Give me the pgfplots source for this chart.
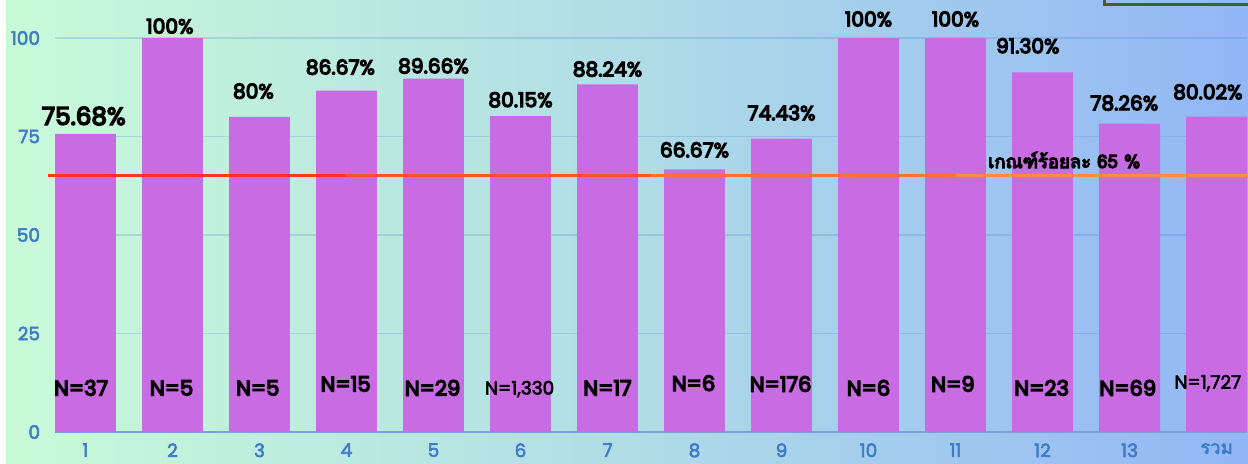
\documentclass[border=0pt]{standalone}
\usepackage{pgfplots}
\pgfplotsset{compat=1.18}
\usepackage{fontspec}
\setmainfont{Poppins}
\newfontfamily\psemi{Poppins}[FakeBold=6]
\newfontfamily\pmed{Poppins}[FakeBold=3]
\newfontfamily\thaifont[Script=Thai,FakeBold=6]{Loma}
\newfontfamily\thaitick[Script=Thai,FakeBold=3]{Loma}

\definecolor{barc}{HTML}{C96BE3}
\definecolor{tickc}{HTML}{3F7BC6}
\definecolor{bgl}{HTML}{C9FAD8}
\definecolor{bgm}{HTML}{B0DDE6}
\definecolor{bgr}{HTML}{92B6F6}
\definecolor{boxc}{HTML}{4B5E1C}
\definecolor{ln1}{RGB}{249,52,55}
\definecolor{ln2}{RGB}{252,80,62}
\definecolor{ln3}{RGB}{254,110,70}
\definecolor{ln4}{RGB}{255,138,80}

% ratio per category (%)
\pgfplotstableread{
x y
1 75.68
2 100
3 80
4 86.67
5 89.66
6 80.15
7 88.24
8 66.67
9 74.43
10 100
11 100
12 91.30
13 78.26
14 80.02
}\scores

% value label positions
\pgfplotstableread{
lx ly lab
1.97 103.0 100
2.93 86.5 80
3.93 92.6 86.67
5.0 92.9 89.66
6.0 84.3 80.15
7.0 92.1 88.24
8.0 71.6 66.67
9.0 81.0 74.43
10.0 104.8 100
11.0 104.8 100
11.83 98.0 91.30
12.94 83.5 78.26
13.9 86.3 80.02
}\vlabels

% sample sizes
\pgfplotstableread{
nx ny nlab
0.95 11.2 N=37
1.99 11.2 N=5
2.98 11.2 N=5
3.99 12.2 N=15
4.99 11.2 N=29
7.0 11.2 N=17
7.99 12.4 N=6
8.99 12.2 N=176
10.0 11.2 N=6
10.97 12.2 N=9
11.99 11.2 N=23
12.98 11.2 N=69
}\nlabels

\begin{document}
\begin{tikzpicture}
\useasboundingbox (0,0) rectangle (24.96cm,9.26cm);
\fill[white] (0,0) rectangle (24.96cm,9.26cm);
\shade[left color=bgl, right color=bgm] (0.12cm,0) rectangle (12.5cm,9.26cm);
\shade[left color=bgm, right color=bgr] (12.5cm,0) rectangle (24.96cm,9.26cm);
\begin{scope}
\clip (0,0) rectangle (24.96cm,9.26cm);
\draw[boxc, line width=2.2pt] (22.09cm,9.17cm) rectangle (26cm,10cm);
\end{scope}

\begin{axis}[
  at={(1.10cm,0.62cm)}, anchor=south west,
  scale only axis, width=23.84cm, height=7.88cm,
  xmin=0.65, xmax=14.35, ymin=0, ymax=100,
  clip=false,
  axis x line*=bottom, axis y line*=left,
  x axis line style={-, draw=tickc!70, line width=0.6pt},
  y axis line style={draw=none},
  major tick length=0pt,
  ytick={0,25,50,75,100},
  xtick={1,...,14},
  xticklabels={1,2,3,4,5,6,7,8,9,10,11,12,13,{\thaitick รวม}},
  ymajorgrids,
  grid style={draw=tickc, opacity=0.22, line width=0.8pt},
  /pgf/number format/assume math mode=true,
  tick label style={font=\pmed\fontsize{10.5}{12}\selectfont, text=tickc},
  yticklabel style={xshift=-5pt},
  xticklabel style={yshift=-3pt},
]
\addplot[ybar, bar width=0.7, fill=barc, draw=none] table[x=x, y=y] {\scores};

% criterion line at 65, red shading into orange
\addplot[ln1, line width=1.7pt] coordinates {(0.57,65) (4,65)};
\addplot[ln2, line width=1.7pt] coordinates {(4,65) (7.5,65)};
\addplot[ln3, line width=1.7pt] coordinates {(7.5,65) (11,65)};
\addplot[ln4, line width=1.7pt] coordinates {(11,65) (14.35,65)};

% value labels
\addplot[only marks, mark=none, point meta=explicit symbolic,
  nodes near coords={\pgfplotspointmeta\%}, nodes near coords align=center,
  every node near coord/.append style={font=\psemi\fontsize{11.5}{12}\selectfont, text=black}]
  table[x=lx, y=ly, meta=lab] {\vlabels};
\addplot[only marks, mark=none, point meta=explicit symbolic,
  nodes near coords={\pgfplotspointmeta\%}, nodes near coords align=center,
  every node near coord/.append style={font=\psemi\fontsize{14}{15}\selectfont, text=black}]
  coordinates {(0.98,80.2) [75.68]};

% N labels
\addplot[only marks, mark=none, point meta=explicit symbolic,
  nodes near coords, nodes near coords align=center,
  every node near coord/.append style={font=\psemi\fontsize{12}{13}\selectfont, text=black}]
  table[x=nx, y=ny, meta=nlab] {\nlabels};
\addplot[only marks, mark=none, point meta=explicit symbolic,
  nodes near coords, nodes near coords align=center,
  every node near coord/.append style={font=\pmed\fontsize{10.5}{12}\selectfont, text=black}]
  coordinates {(5.99,10.9) [N=1,330] (13.9,12.4) [N=1,727]};

% criterion text
\addplot[only marks, mark=none, point meta=explicit symbolic,
  nodes near coords={\thaifont\pgfplotspointmeta}, nodes near coords align=center,
  every node near coord/.append style={font=\fontsize{10.5}{12}\selectfont, text=black}]
  coordinates {(12.25,69.0) [เกณฑ์ร้อยละ 65 \%]};
\end{axis}
\end{tikzpicture}
\end{document}
